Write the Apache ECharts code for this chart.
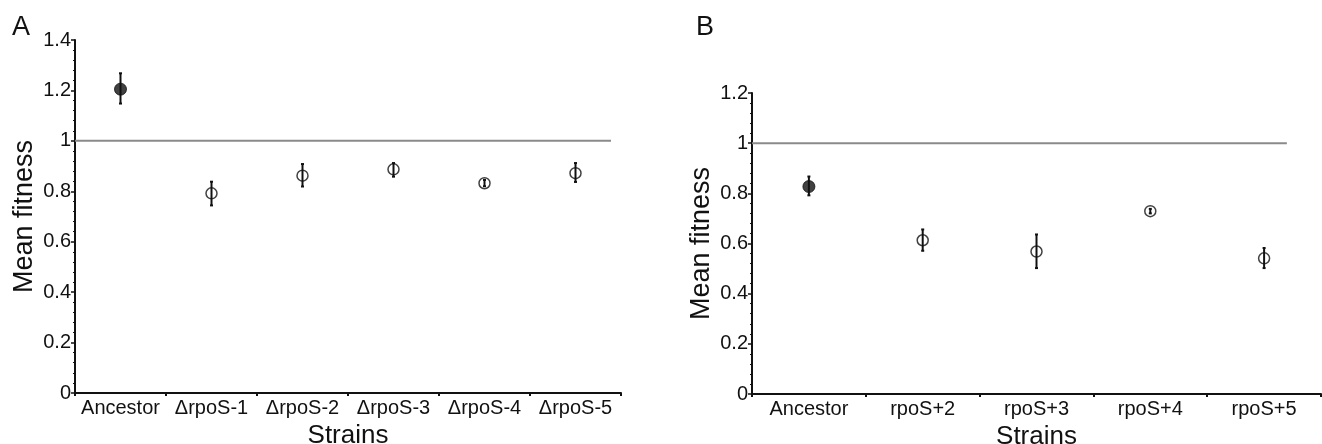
<!DOCTYPE html>
<html>
<head>
<meta charset="utf-8">
<script src="https://cdn.jsdelivr.net/npm/echarts@6/dist/echarts.min.js"></script>
<style>
  html, body { margin: 0; padding: 0; background: #fff; }
  #chart { width: 1322px; height: 444px; }
</style>
</head>
<body>
<div id="chart"></div>
<script>
// panel A: deletion strains
const strainsA = ['Ancestor', 'ΔrpoS-1', 'ΔrpoS-2', 'ΔrpoS-3', 'ΔrpoS-4', 'ΔrpoS-5'];
const meanA = [1.205, 0.792, 0.862, 0.887, 0.832, 0.872];
const lowA = [1.148, 0.744, 0.819, 0.858, 0.82, 0.837];
const highA = [1.268, 0.838, 0.908, 0.912, 0.845, 0.912];

// panel B: rpoS+ strains
const strainsB = ['Ancestor', 'rpoS+2', 'rpoS+3', 'rpoS+4', 'rpoS+5'];
const meanB = [0.827, 0.613, 0.568, 0.729, 0.541];
const lowB = [0.792, 0.571, 0.502, 0.72, 0.502];
const highB = [0.867, 0.656, 0.636, 0.738, 0.582];

// reference line at fitness 1, ends (in category units)
const refLevel = 1;
const refEndA = 5.89;
const refEndB = 4.7;

const FONT = 'Liberation Sans, Arial, sans-serif';
const INK = '#111';

function errorBars(gridIdx, low, high) {
  return {
    type: 'custom',
    xAxisIndex: gridIdx * 2,
    yAxisIndex: gridIdx,
    z: 3,
    data: low.map((v, i) => [i, v, high[i]]),
    renderItem: function (params, api) {
      const lo = api.coord([api.value(0), api.value(1)]);
      const hi = api.coord([api.value(0), api.value(2)]);
      const cap = 1.5;
      const st = { stroke: INK, lineWidth: 2 };
      return {
        type: 'group',
        children: [
          { type: 'line', shape: { x1: lo[0], y1: lo[1], x2: hi[0], y2: hi[1] }, style: st },
          { type: 'line', shape: { x1: lo[0] - cap, y1: lo[1], x2: lo[0] + cap, y2: lo[1] }, style: st },
          { type: 'line', shape: { x1: hi[0] - cap, y1: hi[1], x2: hi[0] + cap, y2: hi[1] }, style: st }
        ]
      };
    }
  };
}

function points(gridIdx, mean) {
  return {
    type: 'scatter',
    xAxisIndex: gridIdx * 2,
    yAxisIndex: gridIdx,
    z: 4,
    symbol: 'circle',
    data: mean.map((v, i) => ({
      value: [i, v],
      symbolSize: i === 0 ? 12 : 11,
      itemStyle: i === 0
        ? { color: INK, borderColor: INK, borderWidth: 1 }
        : { color: 'rgba(0,0,0,0)', borderColor: INK, borderWidth: 1.5 }
    }))
  };
}

function refLine(gridIdx, end) {
  return {
    type: 'line',
    xAxisIndex: gridIdx * 2 + 1,
    yAxisIndex: gridIdx,
    z: 2,
    symbol: 'none',
    silent: true,
    lineStyle: { color: '#8a8a8a', width: 2 },
    data: [[0, refLevel], [end, refLevel]]
  };
}

function catAxis(gridIdx, cats) {
  return {
    type: 'category',
    gridIndex: gridIdx,
    data: cats,
    name: 'Strains',
    nameLocation: 'middle',
    nameGap: 22,
    nameTextStyle: { fontFamily: FONT, fontSize: 26, color: INK },
    axisLine: { lineStyle: { color: INK, width: 2 } },
    axisTick: { show: true, length: 3, lineStyle: { color: INK, width: 2 } },
    axisLabel: { fontFamily: FONT, fontSize: 20, color: INK, margin: 5, interval: 0 },
    splitLine: { show: false }
  };
}

function hiddenX(gridIdx, n) {
  return { type: 'value', gridIndex: gridIdx, min: 0, max: n, show: false };
}

function valAxis(gridIdx, max) {
  return {
    type: 'value',
    gridIndex: gridIdx,
    min: 0,
    max: max,
    interval: 0.2,
    name: 'Mean fitness',
    nameLocation: 'middle',
    nameGap: 37,
    nameTextStyle: { fontFamily: FONT, fontSize: 27, color: INK },
    axisLine: { show: true, lineStyle: { color: INK, width: 2 } },
    axisTick: { show: true, length: 4, lineStyle: { color: INK, width: 1.5 } },
    minorTick: { show: true, splitNumber: 5, length: 2, lineStyle: { color: INK, width: 1 } },
    axisLabel: { fontFamily: FONT, fontSize: 20, color: INK, margin: 4 },
    splitLine: { show: false }
  };
}

const chart = echarts.init(document.getElementById('chart'), null, { renderer: 'canvas' });

chart.setOption({
  animation: false,
  backgroundColor: '#fff',
  title: [
    { text: 'A', left: 7, top: 9, textStyle: { fontFamily: FONT, fontSize: 27, fontWeight: 'normal', color: INK } },
    { text: 'B', left: 691, top: 9, textStyle: { fontFamily: FONT, fontSize: 27, fontWeight: 'normal', color: INK } }
  ],
  grid: [
    { left: 75, right: 701, top: 40, bottom: 51, containLabel: false, outerBoundsMode: 'none' },
    { left: 752, right: 1, top: 93, bottom: 50, containLabel: false, outerBoundsMode: 'none' }
  ],
  xAxis: [
    catAxis(0, strainsA),
    hiddenX(0, strainsA.length),
    catAxis(1, strainsB),
    hiddenX(1, strainsB.length)
  ],
  yAxis: [
    valAxis(0, 1.4),
    valAxis(1, 1.2)
  ],
  series: [
    refLine(0, refEndA),
    errorBars(0, lowA, highA),
    points(0, meanA),
    refLine(1, refEndB),
    errorBars(1, lowB, highB),
    points(1, meanB)
  ]
});
</script>
</body>
</html>
